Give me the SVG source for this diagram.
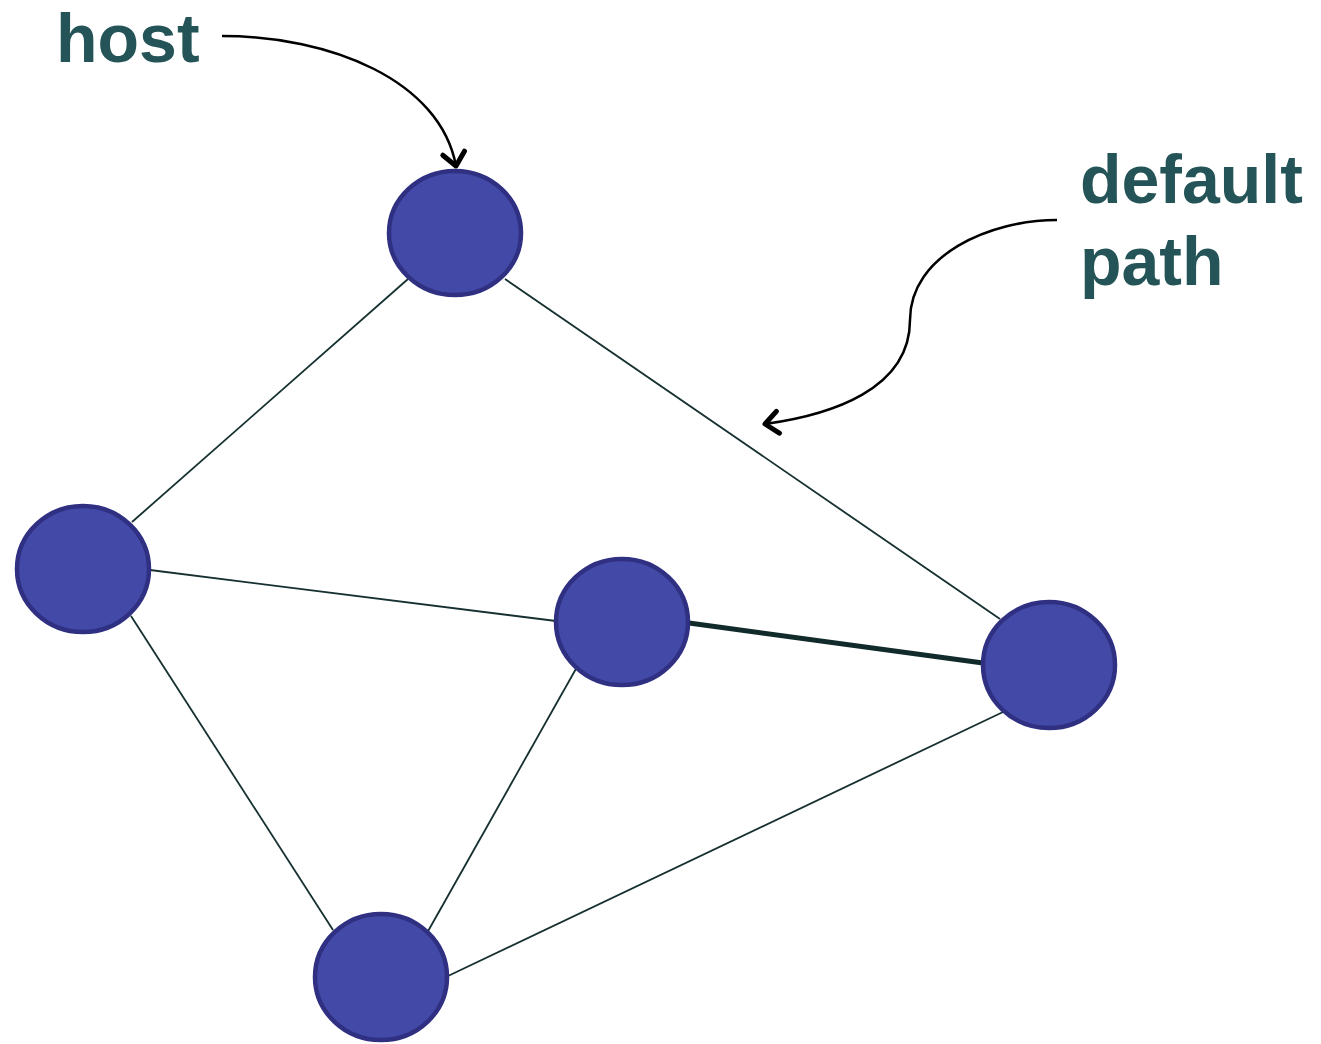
<svg xmlns="http://www.w3.org/2000/svg" width="1321" height="1044" viewBox="0 0 1321 1044">
<style>
.node{fill:#4349a7;stroke:#2f3082;stroke-width:4.5}
.edge{stroke:#163030;stroke-width:1.8;fill:none}
.thick{stroke:#112a2a;stroke-width:5;fill:none}
.lbl{font-family:"Liberation Sans",Arial,sans-serif;font-weight:bold;font-size:68px;fill:#245457}
.ann{stroke:#000;stroke-width:2.5;fill:none}
</style>
<defs>
<marker id="chev" markerUnits="userSpaceOnUse" markerWidth="34" markerHeight="34" viewBox="-17 -17 34 34" refX="0" refY="0" orient="auto">
<path d="M-13,-11 L0,0 L-13,11" fill="none" stroke="#000" stroke-width="5" stroke-linecap="round" stroke-linejoin="round"/>
</marker>
</defs>
<rect width="1321" height="1044" fill="#fff"/>
<g id="connectors">
<line class="edge" x1="408" y1="279" x2="132" y2="522"/>
<line class="edge" x1="505" y1="279" x2="1000" y2="619"/>
<line class="edge" x1="150" y1="570" x2="556" y2="621"/>
<line class="edge" x1="131" y1="616" x2="333" y2="930"/>
<line class="edge" x1="577" y1="667" x2="427" y2="933"/>
<line class="thick" x1="689" y1="623" x2="983" y2="663"/>
<line class="edge" x1="1003" y1="712" x2="448" y2="976"/>
<path class="ann" d="M222,36 C330,36 440,80 456,166" marker-end="url(#chev)"/>
<path class="ann" d="M1057,220 C990,220 910,255 910,320 C910,390 830,415 765,424" marker-end="url(#chev)"/>
</g>
<g id="node-top"><ellipse class="node" cx="455" cy="233" rx="66" ry="62"/></g>
<g id="node-left"><ellipse class="node" cx="83" cy="569" rx="66" ry="63"/></g>
<g id="node-middle"><ellipse class="node" cx="622" cy="622" rx="66" ry="63"/></g>
<g id="node-right"><ellipse class="node" cx="1049" cy="665" rx="66" ry="63"/></g>
<g id="node-bottom"><ellipse class="node" cx="381" cy="977" rx="66" ry="63"/></g>
<g id="label-host"><text class="lbl" x="56" y="62">host</text></g>
<g id="label-default-path"><text class="lbl" x="1080" y="203">default</text><text class="lbl" x="1080" y="285">path</text></g>
</svg>
